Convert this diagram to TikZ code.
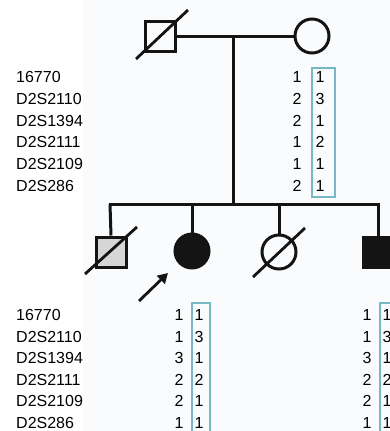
\documentclass[tikz,border=0pt]{standalone}
\usepackage{fontspec}
\setmainfont{Liberation Sans}
\usetikzlibrary{arrows.meta}
\definecolor{boxteal}{RGB}{118,184,196}
\definecolor{tint}{RGB}{250,251,252}
\definecolor{lightgrey}{RGB}{214,214,214}
\definecolor{ink}{RGB}{20,20,20}
\tikzset{
  ped/.style={draw=ink,line width=3pt},
  male/.style={ped,rectangle,minimum size=30pt,inner sep=0pt},
  female/.style={ped,circle,minimum size=34pt,inner sep=0pt},
  pline/.style={draw=ink,line width=3pt},
  deceased/.style={draw=ink,line width=2.8pt},
  lbl/.style={anchor=west,inner sep=0pt,font=\fontsize{16}{18}\selectfont},
  num/.style={inner sep=0pt,font=\fontsize{16}{18}\selectfont},
  hapbox/.style={draw=boxteal,line width=1.5pt}
}
\begin{document}
\begin{tikzpicture}[x=1pt,y=-1pt]
\useasboundingbox (0,0) rectangle (390,431);
\clip (0,0) rectangle (390,431);
\fill[tint] (83,0) rectangle (392,433);
% parents
\node[male] (father) at (160,36) {};
\node[female] (mother) at (312,36) {};
\coordinate (fs1) at (136,59); \coordinate (fs2) at (188,10);
\draw[deceased] (fs1) -- (fs2);
\draw[pline] (father.east) -- (mother.west);
\coordinate (mate) at (233,36);
\coordinate (sib) at (233,204);
\draw[pline] (mate) -- (sib);
% sibship
\coordinate (s1) at (110,204);
\coordinate (s2) at (192,204);
\coordinate (s3) at (279,204);
\coordinate (s4) at (378,204);
\draw[pline,line cap=rect] (s1) -- (s4);
% children
\node[male,fill=lightgrey] (c1) at (111,252) {};
\node[female,fill=ink] (c2) at (192,251) {};
\node[female] (c3) at (279,252) {};
\node[male,fill=ink] (c4) at (378,252) {};
\draw[pline] (s1) -- (c1.north);
\draw[pline] (s2) -- (c2.north);
\draw[pline] (s3) -- (c3.north);
\draw[pline] (s4) -- (c4.north);
\coordinate (cs1a) at (85,274); \coordinate (cs1b) at (137,227);
\draw[deceased] (cs1a) -- (cs1b);
\coordinate (cs3a) at (253,277); \coordinate (cs3b) at (305,228);
\draw[deceased] (cs3a) -- (cs3b);
% proband arrow
\coordinate (arT) at (139,301);
\coordinate (arH) at (168,273);
\draw[draw=ink,line width=2.8pt,-{Triangle[length=10pt,width=11pt]}] (arT) -- (arH);
% haplotype boxes
\node[hapbox,minimum width=23pt,minimum height=129pt,inner sep=0pt] (boxM) at (323.5,132.5) {};
\node[hapbox,minimum width=18pt,minimum height=140pt,inner sep=0pt] (boxC2) at (201,373) {};
\node[hapbox,minimum width=20pt,minimum height=140pt,inner sep=0pt] (boxC4) at (390,373) {};
% top table
\foreach \name/\a/\b [count=\i] in {16770/1/1,D2S2110/2/3,D2S1394/2/1,D2S2111/1/2,D2S2109/1/1,D2S286/2/1}{
  \pgfmathsetmacro{\yy}{77+21.8*(\i-1)}
  \node[lbl] (tl\i) at (16,\yy) {\name};
  \node[num] (ta\i) at (297,\yy) {\a};
  \node[num] (tb\i) at (320,\yy) {\b};
}
% bottom table
\foreach \name/\a/\b/\c/\d [count=\i] in {16770/1/1/1/1,D2S2110/1/3/1/3,D2S1394/3/1/3/1,D2S2111/2/2/2/2,D2S2109/2/1/2/1,D2S286/1/1/1/1}{
  \pgfmathsetmacro{\yy}{315+21.6*(\i-1)}
  \node[lbl] (bl\i) at (16,\yy) {\name};
  \node[num] (ba\i) at (179,\yy) {\a};
  \node[num] (bb\i) at (199,\yy) {\b};
  \node[num] (bc\i) at (367,\yy) {\c};
  \node[num] (bd\i) at (387,\yy) {\d};
}
\end{tikzpicture}
\end{document}
